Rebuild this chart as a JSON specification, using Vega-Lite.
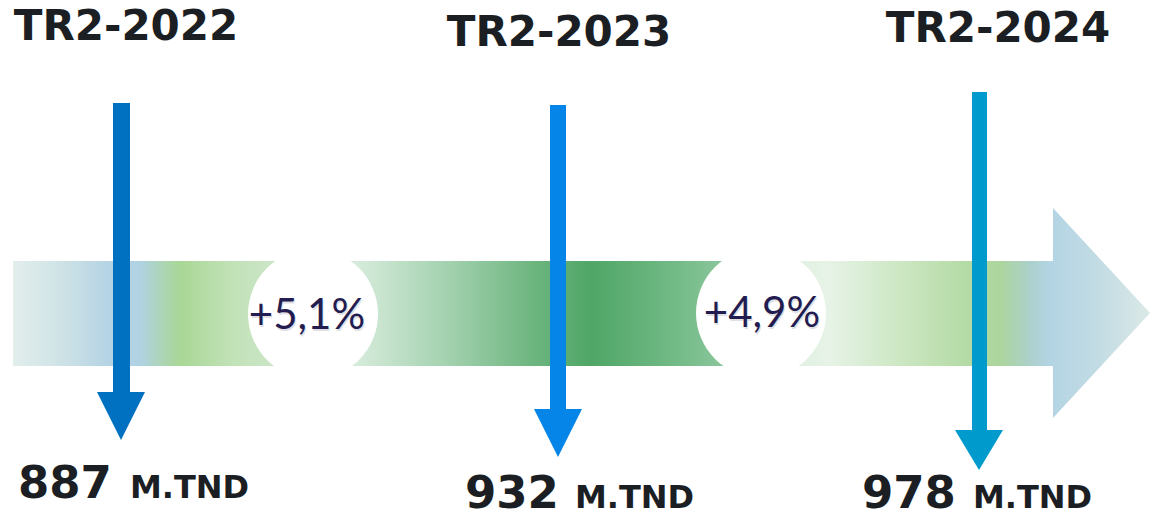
{
  "$schema": "https://vega.github.io/schema/vega-lite/v6.json",
  "width": 1150,
  "height": 523,
  "autosize": {"type": "fit", "contains": "padding"},
  "padding": 0,
  "background": "white",
  "config": {"view": {"stroke": null}},
  "datasets": {
    "band": [
      {"x": 13, "y1": 261, "y2": 366},
      {"x": 1052.9, "y1": 261, "y2": 366},
      {"x": 1053, "y1": 208, "y2": 418},
      {"x": 1150, "y1": 313, "y2": 313}
    ],
    "circles": [
      {"x": 313, "y": 314, "label": "+5,1%", "lx": 307, "ly": 316},
      {"x": 761, "y": 313, "label": "+4,9%", "lx": 762, "ly": 314}
    ],
    "shafts": [
      {"k": "2022", "xs1": 113, "xs2": 130, "top": 103, "bottom": 393},
      {"k": "2023", "xs1": 550, "xs2": 566, "top": 105, "bottom": 410},
      {"k": "2024", "xs1": 972, "xs2": 987, "top": 92, "bottom": 431}
    ],
    "heads": [
      {"k": "2022", "y": 392, "xl": 97, "xr": 145},
      {"k": "2022", "y": 440, "xl": 121, "xr": 121},
      {"k": "2023", "y": 409, "xl": 534, "xr": 582},
      {"k": "2023", "y": 457, "xl": 558, "xr": 558},
      {"k": "2024", "y": 430, "xl": 955, "xr": 1003},
      {"k": "2024", "y": 470, "xl": 979, "xr": 979}
    ],
    "titles": [
      {"t": "TR2-2022", "x": 126, "y": 40},
      {"t": "TR2-2023", "x": 559, "y": 46},
      {"t": "TR2-2024", "x": 998, "y": 42}
    ],
    "values": [
      {"v": "887", "x": 18, "y": 498, "ux": 130},
      {"v": "932", "x": 465, "y": 508, "ux": 575},
      {"v": "978", "x": 862, "y": 508, "ux": 973}
    ]
  },
  "layer": [
    {
      "data": {"name": "band"},
      "mark": {
        "type": "area",
        "color": {
          "gradient": "linear", "x1": 0, "y1": 0, "x2": 1, "y2": 0,
          "stops": [
            {"offset": 0.0, "color": "#e2eeec"},
            {"offset": 0.041, "color": "#cfe3e6"},
            {"offset": 0.085, "color": "#b4d3e4"},
            {"offset": 0.112, "color": "#b0d2e2"},
            {"offset": 0.134, "color": "#acd5b0"},
            {"offset": 0.147, "color": "#a9d796"},
            {"offset": 0.19, "color": "#c0e1b5"},
            {"offset": 0.23, "color": "#cce6c8"},
            {"offset": 0.302, "color": "#d6ebdb"},
            {"offset": 0.384, "color": "#a2d1ae"},
            {"offset": 0.455, "color": "#6fb681"},
            {"offset": 0.508, "color": "#4fa666"},
            {"offset": 0.586, "color": "#74bb88"},
            {"offset": 0.63, "color": "#8ec79e"},
            {"offset": 0.686, "color": "#e0f0e2"},
            {"offset": 0.718, "color": "#e6f3e6"},
            {"offset": 0.78, "color": "#cde7c3"},
            {"offset": 0.833, "color": "#b6dca8"},
            {"offset": 0.868, "color": "#acd59c"},
            {"offset": 0.895, "color": "#acd0cc"},
            {"offset": 0.912, "color": "#b3d4e4"},
            {"offset": 0.956, "color": "#c3dce4"},
            {"offset": 1.0, "color": "#dbe9e6"}
          ]
        }
      },
      "encoding": {
        "x": {"field": "x", "type": "quantitative", "scale": {"domain": [0, 1150], "nice": false, "zero": false}, "axis": null},
        "y": {"field": "y1", "type": "quantitative", "scale": {"domain": [0, 523], "nice": false, "reverse": true}, "axis": null},
        "y2": {"field": "y2"}
      }
    },
    {
      "data": {"name": "circles"},
      "mark": {"type": "point", "shape": "circle", "filled": true, "color": "white", "opacity": 1, "size": 16900, "strokeWidth": 0},
      "encoding": {
        "x": {"field": "x", "type": "quantitative"},
        "y": {"field": "y", "type": "quantitative"}
      }
    },
    {
      "data": {"name": "circles"},
      "mark": {"type": "text", "font": "Lato", "fontSize": 42, "color": "#9a9aa8", "opacity": 0.3, "align": "center", "baseline": "middle", "dx": 1, "dy": 2},
      "encoding": {
        "x": {"field": "lx", "type": "quantitative"},
        "y": {"field": "ly", "type": "quantitative"},
        "text": {"field": "label"}
      }
    },
    {
      "data": {"name": "circles"},
      "mark": {"type": "text", "font": "Lato", "fontSize": 42, "color": "#221c50", "align": "center", "baseline": "middle"},
      "encoding": {
        "x": {"field": "lx", "type": "quantitative"},
        "y": {"field": "ly", "type": "quantitative"},
        "text": {"field": "label"}
      }
    },
    {
      "data": {"name": "shafts"},
      "mark": {"type": "rect"},
      "encoding": {
        "x": {"field": "xs1", "type": "quantitative"},
        "x2": {"field": "xs2"},
        "y": {"field": "top", "type": "quantitative"},
        "y2": {"field": "bottom"},
        "color": {"field": "k", "type": "nominal", "scale": {"domain": ["2022", "2023", "2024"], "range": ["#0070c0", "#0585e8", "#009bcc"]}, "legend": null}
      }
    },
    {
      "data": {"name": "heads"},
      "mark": {"type": "area", "orient": "horizontal"},
      "encoding": {
        "y": {"field": "y", "type": "quantitative"},
        "x": {"field": "xl", "type": "quantitative"},
        "x2": {"field": "xr"},
        "color": {"field": "k", "type": "nominal", "legend": null}
      }
    },
    {
      "data": {"name": "titles"},
      "mark": {"type": "text", "font": "DejaVu Sans", "fontWeight": "bold", "fontSize": 42, "color": "#1b1e22", "align": "center", "baseline": "alphabetic"},
      "encoding": {
        "x": {"field": "x", "type": "quantitative"},
        "y": {"field": "y", "type": "quantitative"},
        "text": {"field": "t"}
      }
    },
    {
      "data": {"name": "values"},
      "mark": {"type": "text", "font": "DejaVu Sans", "fontWeight": "bold", "fontSize": 45, "color": "#1b1e22", "align": "left", "baseline": "alphabetic"},
      "encoding": {
        "x": {"field": "x", "type": "quantitative"},
        "y": {"field": "y", "type": "quantitative"},
        "text": {"field": "v"}
      }
    },
    {
      "data": {"name": "values"},
      "mark": {"type": "text", "font": "DejaVu Sans", "fontWeight": "bold", "fontSize": 32, "color": "#1b1e22", "align": "left", "baseline": "alphabetic", "text": "M.TND"},
      "encoding": {
        "x": {"field": "ux", "type": "quantitative"},
        "y": {"field": "y", "type": "quantitative"}
      }
    }
  ]
}
